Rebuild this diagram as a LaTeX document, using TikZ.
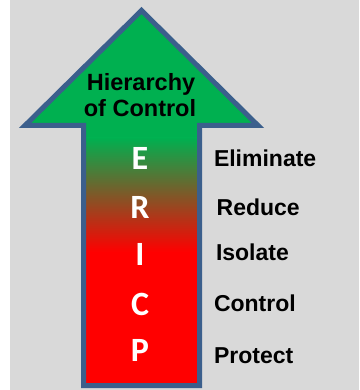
\documentclass[tikz,border=0pt]{standalone}
\usepackage{fontspec}
\setmainfont{Liberation Sans}
\newfontfamily\letterfont{Carlito}
\usepackage{tikz}

\definecolor{hocgreen}{HTML}{00B050}
\definecolor{hocred}{HTML}{FF0000}
\definecolor{hocblue}{HTML}{3B5F8C}
\definecolor{hocgray}{HTML}{D9D9D9}

\begin{document}
\begin{tikzpicture}[x=1pt,y=-1pt,
  every node/.style={inner sep=0pt,outer sep=0pt},
  letter/.style={anchor=base,text=white,font=\letterfont\bfseries\fontsize{34}{36}\selectfont},
  label/.style={anchor=base west,font=\bfseries\fontsize{23}{25}\selectfont},
  title/.style={anchor=base,font=\bfseries\fontsize{23.5}{25}\selectfont}]

\useasboundingbox (0,0) rectangle (359,390);
\fill[hocgray] (10,0) rectangle (359,390);

% arrow body
\coordinate (tip) at (141.5,10.5);
\fill[hocgreen] (tip) -- (258,125.5) -- (199.5,125.5) -- (199.5,385.5) -- (83.5,385.5) -- (83.5,125.5) -- (25,125.5) -- cycle;
\shade[top color=hocgreen,bottom color=hocred] (83.5,138) rectangle (199.5,252);
\fill[hocred] (83.5,252) rectangle (199.5,385.5);
\draw[hocblue,line width=5pt,line join=miter] (tip) -- (258,125.5) -- (199.5,125.5) -- (199.5,385.5) -- (83.5,385.5) -- (83.5,125.5) -- (25,125.5) -- cycle;

\node[title] (t1) at (141,90.7) {Hierarchy};
\node[title] (t2) at (140,117) {of Control};

\node[letter] (lE) at (140,169.3) {E};
\node[letter] (lR) at (140,218) {R};
\node[letter] (lI) at (140,265.7) {I};
\node[letter] (lC) at (140,315) {C};
\node[letter] (lP) at (140,361.7) {P};

\node[label] (eliminate) at (214,166.7) {Eliminate};
\node[label] (reduce) at (216.7,215) {Reduce};
\node[label] (isolate) at (216,260) {Isolate};
\node[label] (control) at (214,311.7) {Control};
\node[label] (protect) at (214,363.3) {Protect};
\end{tikzpicture}
\end{document}
